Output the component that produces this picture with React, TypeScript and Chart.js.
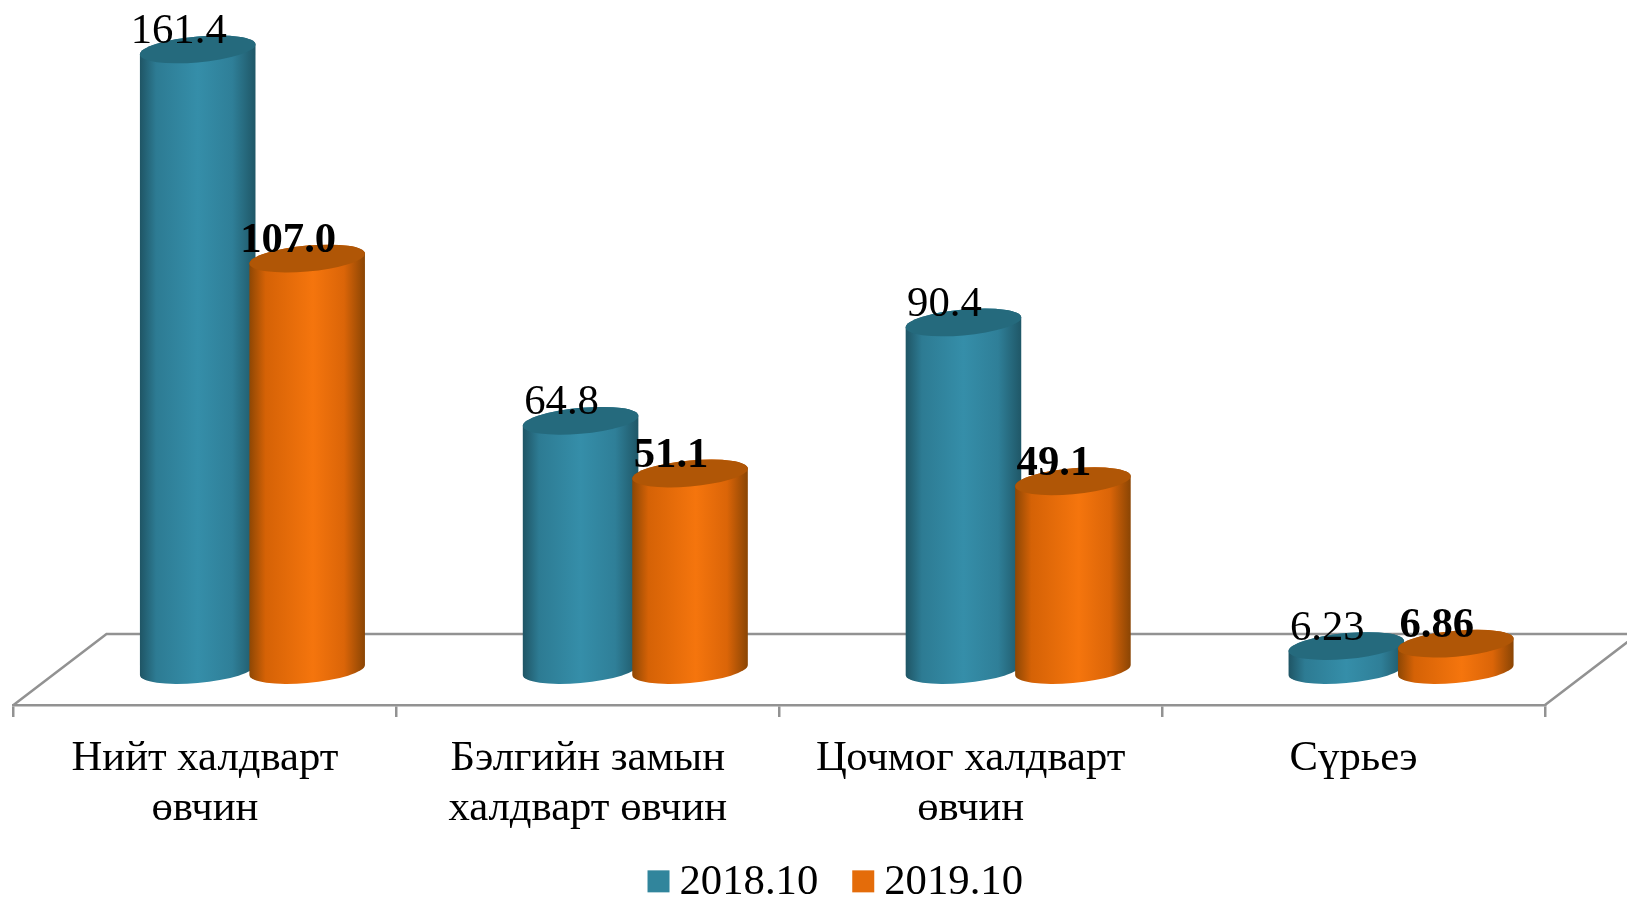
import React, { useEffect, useRef } from "react";
import { Chart, registerables } from "chart.js";

Chart.register(...registerables);

const categories = [
  ["Нийт халдварт", "өвчин"],
  ["Бэлгийн замын", "халдварт өвчин"],
  ["Цочмог халдварт", "өвчин"],
  ["Сүрьеэ"],
];
const seriesNames = ["2018.10", "2019.10"];
const values2018 = [161.4, 64.8, 90.4, 6.23];
const values2019 = [107.0, 51.1, 49.1, 6.86];
const labels2018 = ["161.4", "64.8", "90.4", "6.23"];
const labels2019 = ["107.0", "51.1", "49.1", "6.86"];

const FONT = '"Liberation Serif"';
const FONT_SIZE = 42.7;
const WIDTH = 1627;
const HEIGHT = 899;
const AREA_BOTTOM = 705;
const DEPTH_X = 93;
const DEPTH_Y = 71;
const SHIFT_X = 47.5;
const SHEAR = 5;
const CAP = 13;
const AXIS = "#929292";

const looks = [
  {
    swatch: "#31859c",
    top: "#256a7d",
    stops: [[0, "#1f5565"], [0.14, "#2d7b93"], [0.5, "#358ea9"], [0.8, "#2f7f98"], [1, "#1f5767"]],
    weight: "normal",
    text: labels2018,
  },
  {
    swatch: "#e46c0a",
    top: "#b05606",
    stops: [[0, "#8e4704"], [0.14, "#d56206"], [0.55, "#f5750d"], [0.82, "#db6508"], [1, "#8a4504"]],
    weight: "bold",
    text: labels2019,
  },
];

function drawCylinder(ctx: CanvasRenderingContext2D, cx: number, top: number, base: number, a: number, look: any) {
  const k = SHEAR / a;
  const grad = ctx.createLinearGradient(-a, 0, a, 0);
  look.stops.forEach((s: any) => grad.addColorStop(s[0], s[1]));

  // side wall: sheared coordinates keep the edges vertical
  ctx.save();
  ctx.translate(cx, 0);
  ctx.transform(1, -k, 0, 1, 0, 0);
  ctx.beginPath();
  ctx.moveTo(-a, top);
  ctx.lineTo(-a, base);
  ctx.ellipse(0, base, a, CAP, 0, Math.PI, 0, true);
  ctx.lineTo(a, top);
  ctx.ellipse(0, top, a, CAP, 0, 0, Math.PI, true);
  ctx.closePath();
  ctx.fillStyle = grad;
  ctx.fill();

  ctx.beginPath();
  ctx.ellipse(0, top, a, CAP, 0, 0, Math.PI * 2);
  ctx.fillStyle = look.top;
  ctx.fill();
  ctx.restore();
}

const cylinderPlugin = {
  id: "cylinders",
  afterLayout(chart: any) {
    const lg = chart.legend;
    if (lg) {
      lg.left += 56;
      lg.right += 56;
      lg.top = 827.5;
    }
    // let the two-line tick labels run past the legend's layout box
    chart.scales.x.bottom = HEIGHT;
  },
  beforeDatasetsDraw(chart: any) {
    const { ctx, chartArea } = chart;
    ctx.save();
    ctx.strokeStyle = AXIS;
    ctx.lineWidth = 2.5;
    ctx.beginPath();
    ctx.moveTo(chartArea.left, chartArea.bottom);
    ctx.lineTo(chartArea.left + DEPTH_X, chartArea.bottom - DEPTH_Y);
    ctx.lineTo(chartArea.right + DEPTH_X, chartArea.bottom - DEPTH_Y);
    ctx.lineTo(chartArea.right, chartArea.bottom);
    ctx.stroke();
    ctx.restore();
  },
  beforeDatasetDraw() {
    return false;
  },
  afterDatasetsDraw(chart: any) {
    const { ctx } = chart;
    const count = chart.data.labels.length;
    for (let i = 0; i < count; i++) {
      looks.forEach((look, d) => {
        const el = chart.getDatasetMeta(d).data[i];
        drawCylinder(ctx, el.x + SHIFT_X, el.y, el.base, el.width / 2, look);
      });
    }
    ctx.save();
    ctx.fillStyle = "#000";
    ctx.textAlign = "center";
    ctx.textBaseline = "alphabetic";
    looks.forEach((look, d) => {
      ctx.font = `${look.weight} ${FONT_SIZE}px ${FONT}`;
      chart.getDatasetMeta(d).data.forEach((el: any, i: number) => {
        ctx.fillText(look.text[i], el.x + SHIFT_X - 19, el.y - 6.5);
      });
    });
    ctx.restore();
  },
  afterDraw(chart: any) {
    const { ctx, legend } = chart;
    if (!legend || !legend.legendHitBoxes) return;
    ctx.save();
    legend.legendHitBoxes.forEach((box: any, i: number) => {
      ctx.fillStyle = looks[i].swatch;
      ctx.fillRect(box.left, box.top + box.height / 2 - 12.5, 22, 22);
    });
    ctx.restore();
  },
};

export default function App() {
  const ref = useRef<HTMLCanvasElement | null>(null);

  useEffect(() => {
    if (!ref.current) return;
    const chart = new Chart(ref.current, {
      type: "bar",
      data: {
        labels: categories as any,
        datasets: [
          { label: seriesNames[0], data: values2018, backgroundColor: looks[0].swatch },
          { label: seriesNames[1], data: values2019, backgroundColor: looks[1].swatch },
        ],
      },
      plugins: [cylinderPlugin],
      options: {
        responsive: false,
        animation: false,
        categoryPercentage: 0.5718,
        barPercentage: 1.0557,
        layout: { padding: { left: 13.5, right: 82, top: 0, bottom: 0 } },
        plugins: {
          tooltip: { enabled: false },
          legend: {
            display: true,
            position: "bottom",
            labels: {
              color: "#000",
              font: { family: FONT, size: FONT_SIZE },
              boxWidth: 10.65,
              boxHeight: 0,
              padding: 34,
            },
          },
        },
        scales: {
          x: {
            type: "category",
            offset: true,
            afterFit(scale: any) {
              scale.height = HEIGHT - AREA_BOTTOM - (scale.chart.legend?.height || 0);
            },
            grid: {
              drawOnChartArea: false,
              drawTicks: true,
              tickLength: 12,
              color: AXIS,
              lineWidth: 2.5,
            },
            border: { display: true, color: AXIS, width: 2.5 },
            ticks: {
              color: "#000",
              font: { family: FONT, size: FONT_SIZE, lineHeight: 1.171 },
              padding: 17,
              maxRotation: 0,
              autoSkip: false,
            },
          },
          y: {
            display: false,
            min: -9.1,
            max: 174.25,
          },
        },
      } as any,
    });
    return () => chart.destroy();
  }, []);

  return (
    <div style={{ position: "fixed", left: 0, top: 0, width: WIDTH, height: HEIGHT, background: "#fff", overflow: "hidden" }}>
      <canvas ref={ref} width={WIDTH} height={HEIGHT} style={{ display: "block" }} />
    </div>
  );
}
